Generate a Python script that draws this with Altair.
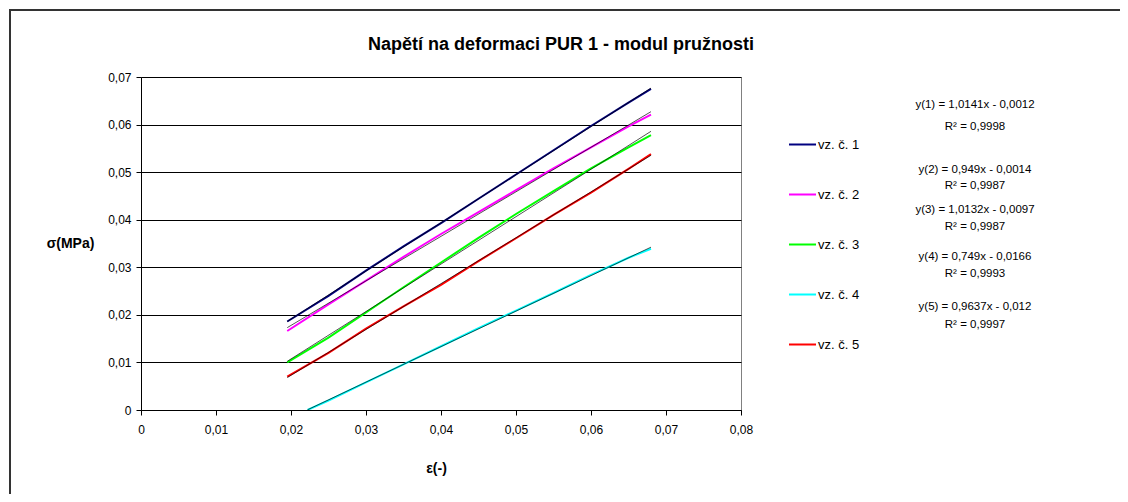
import altair as alt
import pandas as pd

# ---- data ----
series_names = ["vz. č. 1", "vz. č. 2", "vz. č. 3", "vz. č. 4", "vz. č. 5"]
colors = ["#000080", "#FF00FF", "#00FF00", "#00FFFF", "#FF0000"]

strain = [0.0195, 0.025, 0.030, 0.035, 0.040, 0.045, 0.050, 0.055, 0.060, 0.065, 0.068]
strain4 = [0.0222, 0.025, 0.030, 0.035, 0.040, 0.045, 0.050, 0.055, 0.060, 0.065, 0.068]

s1 = [0.0186, 0.0240, 0.0293, 0.0344, 0.0393, 0.0444, 0.0495, 0.0546, 0.0597, 0.0646, 0.0675]
s2 = [0.0166, 0.0222, 0.0272, 0.0322, 0.0370, 0.0416, 0.0462, 0.0508, 0.0552, 0.0596, 0.0621]
s3 = [0.0100, 0.0152, 0.0205, 0.0258, 0.0310, 0.0362, 0.0412, 0.0460, 0.0508, 0.0552, 0.0578]
s4 = [0.0000, 0.0020, 0.0058, 0.0096, 0.0134, 0.0172, 0.0209, 0.0246, 0.0284, 0.0320, 0.0339]
s5 = [0.0070, 0.0120, 0.0171, 0.0218, 0.0263, 0.0313, 0.0361, 0.0410, 0.0457, 0.0507, 0.0538]

x_ticks = [0, 0.01, 0.02, 0.03, 0.04, 0.05, 0.06, 0.07, 0.08]
y_ticks = [0, 0.01, 0.02, 0.03, 0.04, 0.05, 0.06, 0.07]

eq_lines = ["y(1) = 1,0141x - 0,0012", "y(2) = 0,949x - 0,0014", "y(3) = 1,0132x - 0,0097",
            "y(4) = 0,749x - 0,0166", "y(5) = 0,9637x - 0,012"]
r2_lines = ["R² = 0,9998", "R² = 0,9987", "R² = 0,9987", "R² = 0,9993", "R² = 0,9997"]

title_text = "Napětí na deformaci PUR 1 - modul pružnosti"

# ---- build table ----
rows = []
for name, xs, ys in zip(series_names, [strain, strain, strain, strain4, strain],
                        [s1, s2, s3, s4, s5]):
    for i, (xv, yv) in enumerate(zip(xs, ys)):
        rows.append({"series": name, "x": xv, "y": yv, "i": i})
df = pd.DataFrame(rows)

FONT = "Liberation Sans"
label_expr = "datum.value == 0 ? '0' : replace(format(datum.value, '.2f'), '.', ',')"

xscale = alt.Scale(domain=[0, 0.08], nice=False, zero=False)
yscale = alt.Scale(domain=[0, 0.07], nice=False)

x_axis = alt.Axis(values=x_ticks, labelExpr=label_expr, grid=False, domainColor="black",
                  tickColor="black", tickSize=5, labelPadding=9, labelFontSize=12,
                  labelFont=FONT, labelColor="black", title="ε(-)", titleFont=FONT,
                  titleFontSize=14, titleFontWeight="bold", titleX=295, titleY=58,
                  titleBaseline="middle", titleAlign="center", titleColor="black",
                  labelFlush=False)
y_axis = alt.Axis(values=y_ticks, labelExpr=label_expr, grid=True, gridColor="black",
                  gridWidth=1, domainColor="black", tickColor="black", tickSize=5,
                  labelPadding=5, labelFontSize=12, labelFont=FONT, labelColor="black",
                  title="σ(MPa)", titleFont=FONT, titleFontSize=14, titleFontWeight="bold",
                  titleAngle=0, titleX=-71, titleY=166, titleBaseline="middle",
                  titleAlign="center", titleColor="black")

base = alt.Chart(df)

data_lines = base.mark_line(strokeWidth=2, clip=True).encode(
    x=alt.X("x:Q", scale=xscale, axis=x_axis),
    y=alt.Y("y:Q", scale=yscale, axis=y_axis),
    color=alt.Color("series:N", scale=alt.Scale(domain=series_names, range=colors),
                    legend=alt.Legend(title=None, orient="none", legendX=647, legendY=53,
                                      symbolType="stroke", symbolSize=729,
                                      symbolStrokeWidth=2, labelFont=FONT,
                                      labelFontSize=13, labelColor="black",
                                      rowPadding=28, labelOffset=1, padding=0)),
    order="i:Q",
)

trend = base.transform_regression("x", "y", groupby=["series"]).mark_line(
    color="black", strokeWidth=0.8, opacity=0.85, clip=True
).encode(x="x:Q", y="y:Q", detail="series:N")

one = pd.DataFrame({"a": [0]})

# outer chart frame: top edge and left edge as thin filled bars
frame_top = alt.Chart(one).mark_rect(fill="#333333", strokeWidth=0).encode(
    x=alt.value(-132), x2=alt.value(1010), y=alt.value(-68), y2=alt.value(-66)
)
frame_left = alt.Chart(one).mark_rect(fill="#333333", strokeWidth=0).encode(
    x=alt.value(-132), x2=alt.value(-130), y=alt.value(-66), y2=alt.value(417)
)

title = alt.Chart(one).mark_text(font=FONT, fontSize=18, fontWeight="bold", color="black",
                                 align="center", baseline="middle").encode(
    x=alt.value(420), y=alt.value(-32), text=alt.value(title_text)
)

eq_y = [28, 93, 133, 180, 230]
r2_y = [50, 109, 150, 197, 248]
texts = []
for eq, r2, ey, ry in zip(eq_lines, r2_lines, eq_y, r2_y):
    for t, yy in ((eq, ey), (r2, ry)):
        texts.append(alt.Chart(one).mark_text(font=FONT, fontSize=11.5, color="black",
                                              align="center", baseline="middle").encode(
            x=alt.value(834), y=alt.value(yy), text=alt.value(t)))

chart = alt.layer(frame_top, frame_left, data_lines, trend, title, *texts).properties(
    width=600, height=333,
    autosize=alt.AutoSizeParams(type="none"),
    padding={"left": 133, "top": 69, "right": 379, "bottom": 84},
    background="white",
).configure_view(stroke="#808080", strokeWidth=1)

chart.save("out.html", embed_options={"renderer": "svg", "actions": False})
